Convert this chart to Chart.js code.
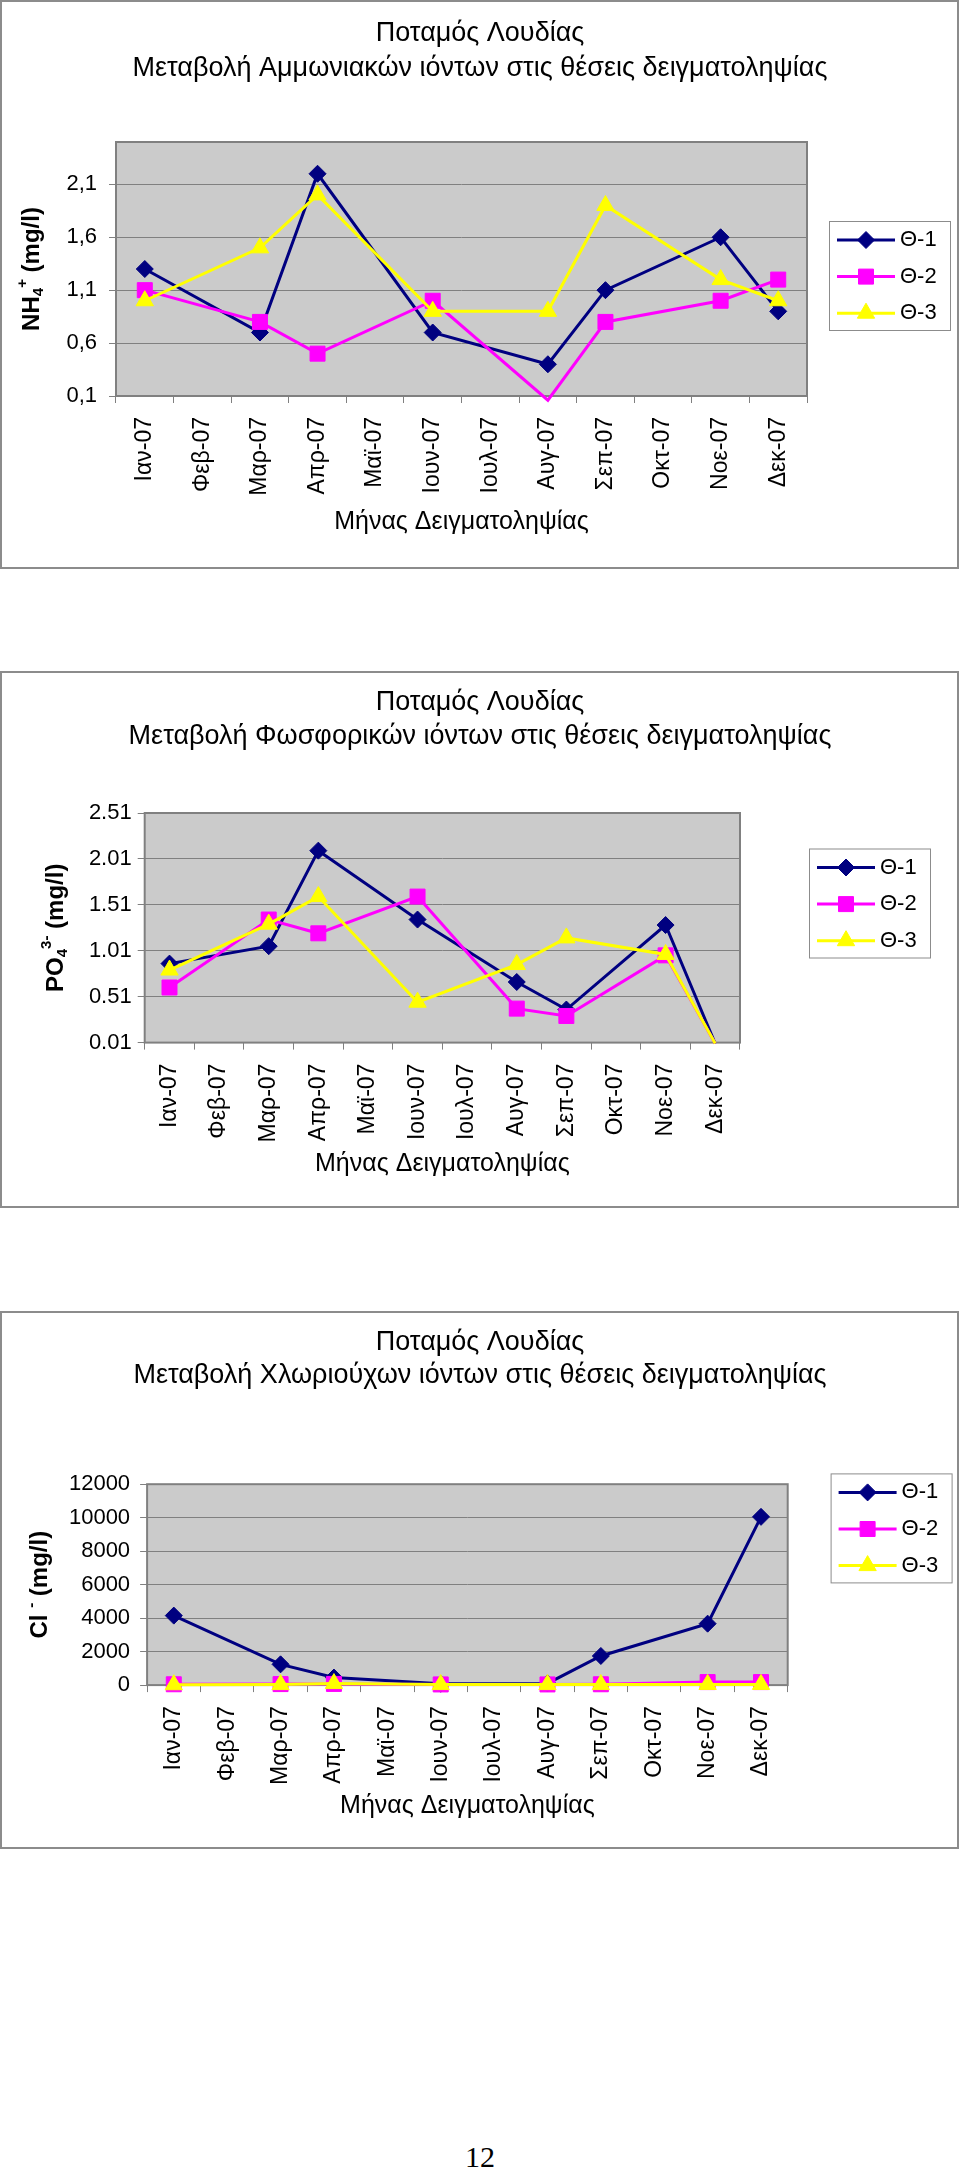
<!DOCTYPE html>
<html>
<head>
<meta charset="utf-8">
<script src="https://cdn.jsdelivr.net/npm/chart.js@4.4.1/dist/chart.umd.min.js"></script>
<style>
  html, body { margin: 0; padding: 0; background: #fff; }
  #page { position: relative; width: 960px; height: 2171px; overflow: hidden; }
  .frame { position: absolute; left: 0; width: 959px; box-sizing: border-box; border: 2px solid #8c8c8c; }
  canvas { position: absolute; left: 0; }
  #pageno { position: absolute; left: 0; width: 960px; top: 2140px; text-align: center;
            font: 30px "Liberation Serif", "Times New Roman", serif; line-height: 34px; }
</style>
</head>
<body>
<div id="page">
  <div class="frame" style="top:0;height:569px"></div>
  <div class="frame" style="top:671px;height:537px"></div>
  <div class="frame" style="top:1311px;height:538px"></div>
  <canvas id="nh4" width="960" height="569" style="top:0"></canvas>
  <canvas id="po4" width="960" height="537" style="top:671px"></canvas>
  <canvas id="cl"  width="960" height="538" style="top:1311px"></canvas>
  <div id="pageno">12</div>
</div>
<script>
// ── DATA ────────────────────────────────────────────────
const months = ['Ιαν-07','Φεβ-07','Μαρ-07','Απρ-07','Μαϊ-07','Ιουν-07',
                'Ιουλ-07','Αυγ-07','Σεπ-07','Οκτ-07','Νοε-07','Δεκ-07'];
const seriesNames = ['Θ-1', 'Θ-2', 'Θ-3'];

// NH4+ (mg/l)
const nh4Ticks = [0.1, 0.6, 1.1, 1.6, 2.1];
const nh4T1 = [1.3, null, 0.7, 2.2, null, 0.7, null, 0.4,  1.1, null, 1.6, 0.9];
const nh4T2 = [1.1, null, 0.8, 0.5, null, 1.0, null, 0.06, 0.8, null, 1.0, 1.2];
const nh4T3 = [1.0, null, 1.5, 2.0, null, 0.9, null, 0.9,  1.9, null, 1.2, 1.0];

// PO4 3- (mg/l)
const po4Ticks = [0.01, 0.51, 1.01, 1.51, 2.01, 2.51];
const po4T1 = [0.87, null, 1.06, 2.10, null, 1.35, null, 0.67, 0.37, null, 1.29, 0];
const po4T2 = [0.61, null, 1.35, 1.20, null, 1.60, null, 0.38, 0.30, null, 0.96, 0];
const po4T3 = [0.80, null, 1.30, 1.60, null, 0.45, null, 0.86, 1.15, null, 0.97, 0];

// Cl- (mg/l)
const clTicks = [0, 2000, 4000, 6000, 8000, 10000, 12000];
const clT1 = [4150, null, 1240, 450, null, 80, null, 100, 1740, null, 3670, 10050];
const clT2 = [50,   null, 60,   70,  null, 40, null, 40,  50,   null, 180,  180];
const clT3 = [20,   null, 30,   90,  null, 30, null, 30,  30,   null, 40,   40];

// ── STYLE ───────────────────────────────────────────────
const FONT = "'Liberation Sans', Arial, sans-serif";
const STYLE = [
  { color: '#000080', point: 'rectRot',  radius: 8.5 },
  { color: '#ff00ff', point: 'rect',     radius: 10.6 },
  { color: '#ffff00', point: 'triangle', radius: 10 },
];

// plot area background + border
const plotFrame = {
  id: 'plotFrame',
  beforeDraw(chart) {
    const { ctx, chartArea: a } = chart;
    ctx.save();
    ctx.fillStyle = '#cbcbcb';
    ctx.fillRect(a.left, a.top, a.right - a.left, a.bottom - a.top);
    ctx.restore();
  },
  beforeDatasetsDraw(chart) {
    const { ctx, chartArea: a } = chart;
    ctx.save();
    ctx.strokeStyle = '#808080';
    ctx.lineWidth = 2;
    ctx.strokeRect(a.left, a.top, a.right - a.left, a.bottom - a.top);
    ctx.restore();
  }
};

// two-line title centred on the whole frame (not on the plot)
const frameTitle = {
  id: 'frameTitle',
  afterDraw(chart, args, o) {
    if (!o || !o.lines) return;
    const { ctx } = chart;
    ctx.save();
    ctx.fillStyle = '#000';
    ctx.font = `${o.size}px ${FONT}`;
    ctx.textAlign = 'center';
    ctx.textBaseline = 'middle';
    o.lines.forEach((t, i) => ctx.fillText(t, chart.width / 2, o.y[i]));
    ctx.restore();
  }
};

// boxed legend with line + marker samples
const boxLegend = {
  id: 'boxLegend',
  afterDraw(chart, args, o) {
    if (!o || o.x == null) return;
    const { ctx } = chart;
    ctx.save();
    ctx.fillStyle = '#fff';
    ctx.fillRect(o.x, o.y, o.w, o.h);
    ctx.strokeStyle = '#8c8c8c';
    ctx.lineWidth = 1;
    ctx.strokeRect(o.x + 0.5, o.y + 0.5, o.w, o.h);
    chart.data.datasets.forEach((ds, i) => {
      const y = o.y + o.first + i * o.gap;
      ctx.strokeStyle = ds.borderColor;
      ctx.lineWidth = ds.borderWidth;
      ctx.beginPath();
      ctx.moveTo(o.x + o.line[0], y);
      ctx.lineTo(o.x + o.line[1], y);
      ctx.stroke();
      ctx.fillStyle = ds.pointBackgroundColor;
      ctx.strokeStyle = ds.pointBorderColor;
      ctx.lineWidth = 1;
      Chart.helpers.drawPoint(ctx, { pointStyle: ds.pointStyle, radius: STYLE[i].radius, borderWidth: 1 },
        o.x + (o.line[0] + o.line[1]) / 2, y);
      ctx.fillStyle = '#000';
      ctx.font = `22px ${FONT}`;
      ctx.textBaseline = 'middle';
      ctx.textAlign = 'left';
      ctx.fillText(ds.label, o.x + o.text, y);
    });
    ctx.restore();
  }
};

// rotated y title with sub/superscripts
const yTitle = {
  id: 'yTitle',
  afterDraw(chart, args, o) {
    if (!o || !o.parts) return;
    const { ctx, chartArea: a } = chart;
    const big = `bold 24px ${FONT}`, small = `bold 15px ${FONT}`;
    ctx.save();
    let total = 0;
    const widths = o.parts.map(p => {
      ctx.font = p.s === 'n' ? big : small;
      const w = ctx.measureText(p.t).width;
      total += w;
      return w;
    });
    ctx.translate(o.x, (a.top + a.bottom) / 2);
    ctx.rotate(-Math.PI / 2);
    ctx.fillStyle = '#000';
    ctx.textBaseline = 'middle';
    ctx.textAlign = 'left';
    let x = -total / 2;
    o.parts.forEach((p, i) => {
      ctx.font = p.s === 'n' ? big : small;
      const dy = p.s === 'sub' ? 7 : p.s === 'sup' ? -9 : 0;
      ctx.fillText(p.t, x, dy);
      x += widths[i];
    });
    ctx.restore();
  }
};

function makeChart(id, cfg) {
  const ctx = document.getElementById(id).getContext('2d');
  const datasets = cfg.series.map((d, i) => ({
    label: seriesNames[i],
    data: d,
    borderColor: STYLE[i].color,
    backgroundColor: STYLE[i].color,
    pointBackgroundColor: STYLE[i].color,
    pointBorderColor: STYLE[i].color,
    pointStyle: STYLE[i].point,
    pointRadius: c => (c.raw == null || c.raw < cfg.min) ? 0 : STYLE[i].radius,
    pointHoverRadius: c => (c.raw == null || c.raw < cfg.min) ? 0 : STYLE[i].radius,
    pointBorderWidth: 1,
    borderWidth: 3,
    tension: 0,
    spanGaps: true,
    clip: false,
    order: 3 - i
  }));

  return new Chart(ctx, {
    type: 'line',
    data: { labels: months, datasets },
    plugins: [plotFrame, frameTitle, boxLegend, yTitle],
    options: {
      responsive: false,
      animation: false,
      devicePixelRatio: 1,
      events: [],
      layout: { padding: { left: 0, top: cfg.area.top, bottom: 0, right: 960 - cfg.area.right } },
      plugins: {
        legend: { display: false },
        tooltip: { enabled: false },
        title: { display: false },
        frameTitle: { lines: cfg.title, y: cfg.titleY, size: 27 },
        boxLegend: cfg.legend,
        yTitle: { parts: cfg.yParts, x: cfg.yTitleX }
      },
      scales: {
        x: {
          offset: true,
          grid: { offset: true, drawOnChartArea: false, drawTicks: true, tickLength: 7, color: '#808080' },
          border: { display: false },
          ticks: {
            autoSkip: false, minRotation: 90, maxRotation: 90, padding: 14,
            color: '#000', font: { family: FONT, size: 23 }
          },
          title: {
            display: true, text: 'Μήνας Δειγματοληψίας', color: '#000',
            font: { family: FONT, size: 25, lineHeight: 1.2 },
            padding: { top: 0, bottom: cfg.xTitlePad }
          },
          afterFit: s => { s.height = cfg.xAxisH; }
        },
        y: {
          min: cfg.min,
          max: cfg.max,
          afterBuildTicks: s => { s.ticks = cfg.ticks.map(v => ({ value: v })); },
          grid: { color: '#808080', lineWidth: 1, tickLength: 7, drawTicks: true },
          border: { display: false },
          ticks: {
            padding: cfg.yPad, color: '#000', font: { family: FONT, size: 22 },
            callback: cfg.fmt
          },
          afterFit: s => { s.width = cfg.area.left; }
        }
      }
    }
  });
}

const legendBox = (x, y) => ({ x, y, w: 121, h: 109, first: 19, gap: 36.6, line: [8, 66], text: 71 });

makeChart('nh4', {
  series: [nh4T1, nh4T2, nh4T3],
  ticks: nh4Ticks, min: 0.1, max: 2.5,
  fmt: v => String(v).replace('.', ','),
  title: ['Ποταμός Λουδίας', 'Μεταβολή Αμμωνιακών ιόντων στις θέσεις δειγματοληψίας'],
  titleY: [33.3, 68.5],
  area: { left: 116, right: 807, top: 142 },
  xAxisH: 173, xTitlePad: 32, yPad: 12,
  yParts: [{ t: 'NH', s: 'n' }, { t: '4', s: 'sub' }, { t: '+', s: 'sup' }, { t: ' (mg/l)', s: 'n' }],
  yTitleX: 32,
  legend: legendBox(829, 221)
});

makeChart('po4', {
  series: [po4T1, po4T2, po4T3],
  ticks: po4Ticks, min: 0.01, max: 2.51,
  fmt: v => v.toFixed(2),
  title: ['Ποταμός Λουδίας', 'Μεταβολή Φωσφορικών ιόντων στις θέσεις δειγματοληψίας'],
  titleY: [31.9, 65.9],
  area: { left: 144.7, right: 740, top: 142 },
  xAxisH: 165.4, xTitlePad: 29, yPad: 6,
  yParts: [{ t: 'PO', s: 'n' }, { t: '4', s: 'sub' }, { t: '3-', s: 'sup' }, { t: ' (mg/l)', s: 'n' }],
  yTitleX: 56,
  legend: legendBox(809, 177.5)
});

makeChart('cl', {
  series: [clT1, clT2, clT3],
  ticks: clTicks, min: 0, max: 12000,
  fmt: v => String(v),
  title: ['Ποταμός Λουδίας', 'Μεταβολή Χλωριούχων ιόντων στις θέσεις δειγματοληψίας'],
  titleY: [31.9, 64.8],
  area: { left: 147.1, right: 787.7, top: 173.2 },
  xAxisH: 163.9, xTitlePad: 28, yPad: 10,
  yParts: [{ t: 'Cl ', s: 'n' }, { t: '-', s: 'sup' }, { t: ' (mg/l)', s: 'n' }],
  yTitleX: 40.7,
  legend: legendBox(830.6, 162.4)
});
</script>
</body>
</html>
